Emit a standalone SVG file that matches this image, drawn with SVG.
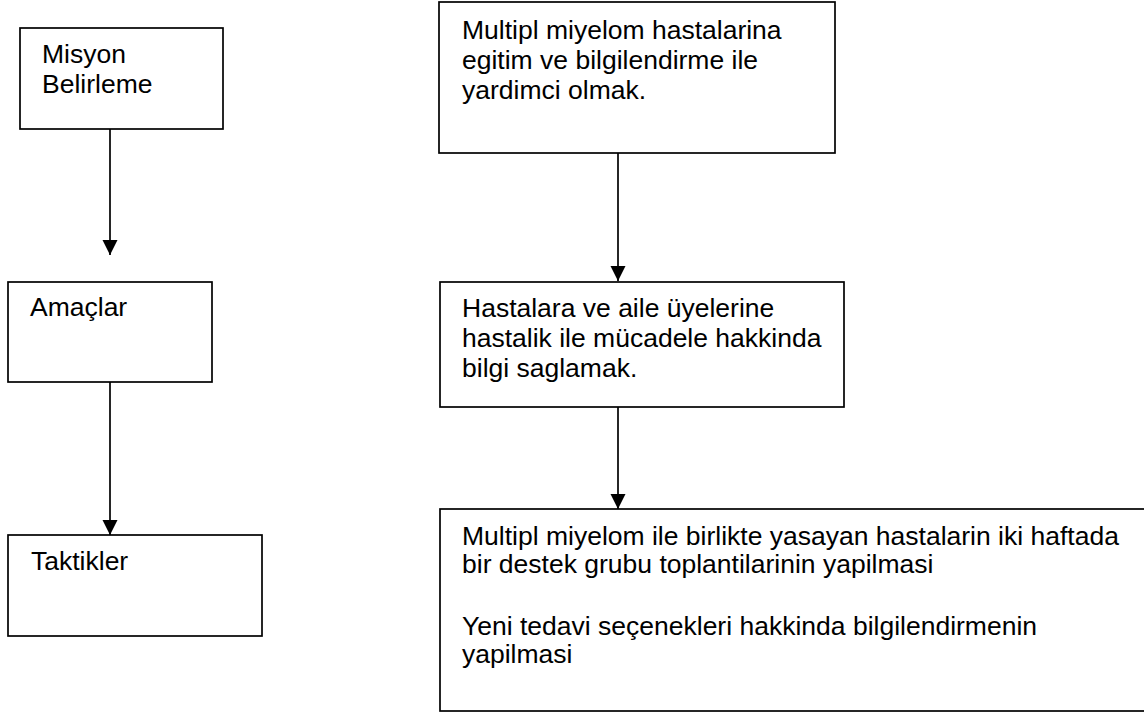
<svg xmlns="http://www.w3.org/2000/svg" width="1144" height="713" viewBox="0 0 1144 713">
<style>
.box{fill:#fff;stroke:#000;stroke-width:1.7}
.t{font-family:"Liberation Sans",Arial,sans-serif;font-size:26.5px;fill:#000}
.c{stroke:#000;stroke-width:1.7;fill:none}
</style>
<defs>
<marker id="ah" markerUnits="userSpaceOnUse" markerWidth="16" markerHeight="16" viewBox="0 0 16 16" refX="15" refY="7.5" orient="auto">
<path d="M0,0 L15,7.5 L0,15 Z" fill="#000"/>
</marker>
</defs>
<rect width="1144" height="713" fill="#fff"/>
<g id="connectors">
<line class="c" x1="110" y1="129" x2="110" y2="255" marker-end="url(#ah)"/>
<line class="c" x1="110" y1="382" x2="110" y2="535" marker-end="url(#ah)"/>
<line class="c" x1="618" y1="153" x2="618" y2="281" marker-end="url(#ah)"/>
<line class="c" x1="618" y1="407" x2="618" y2="509" marker-end="url(#ah)"/>
</g>
<g id="misyon">
<rect class="box" x="20" y="28" width="203" height="101"/>
<text class="t" x="42" y="63">Misyon</text>
<text class="t" x="42" y="93">Belirleme</text>
</g>
<g id="amaclar">
<rect class="box" x="8" y="282" width="204" height="100"/>
<text class="t" x="30" y="316">Amaçlar</text>
</g>
<g id="taktikler">
<rect class="box" x="8" y="535" width="254" height="101"/>
<text class="t" x="31" y="570">Taktikler</text>
</g>
<g id="misyon-detay">
<rect class="box" x="439" y="2" width="396" height="151"/>
<text class="t" x="462" y="39">Multipl miyelom hastalarina</text>
<text class="t" x="462" y="69">egitim ve bilgilendirme ile</text>
<text class="t" x="462" y="99">yardimci olmak.</text>
</g>
<g id="amaclar-detay">
<rect class="box" x="440" y="282" width="404" height="125"/>
<text class="t" x="462" y="317">Hastalara ve aile üyelerine</text>
<text class="t" x="462" y="347">hastalik ile mücadele hakkinda</text>
<text class="t" x="462" y="377">bilgi saglamak.</text>
</g>
<g id="taktikler-detay">
<rect class="box" x="440" y="509" width="720" height="202"/>
<text class="t" x="462" y="545">Multipl miyelom ile birlikte yasayan hastalarin iki haftada</text>
<text class="t" x="462" y="573">bir destek grubu toplantilarinin yapilmasi</text>
<text class="t" x="462" y="635">Yeni tedavi seçenekleri hakkinda bilgilendirmenin</text>
<text class="t" x="462" y="663">yapilmasi</text>
</g>
</svg>
